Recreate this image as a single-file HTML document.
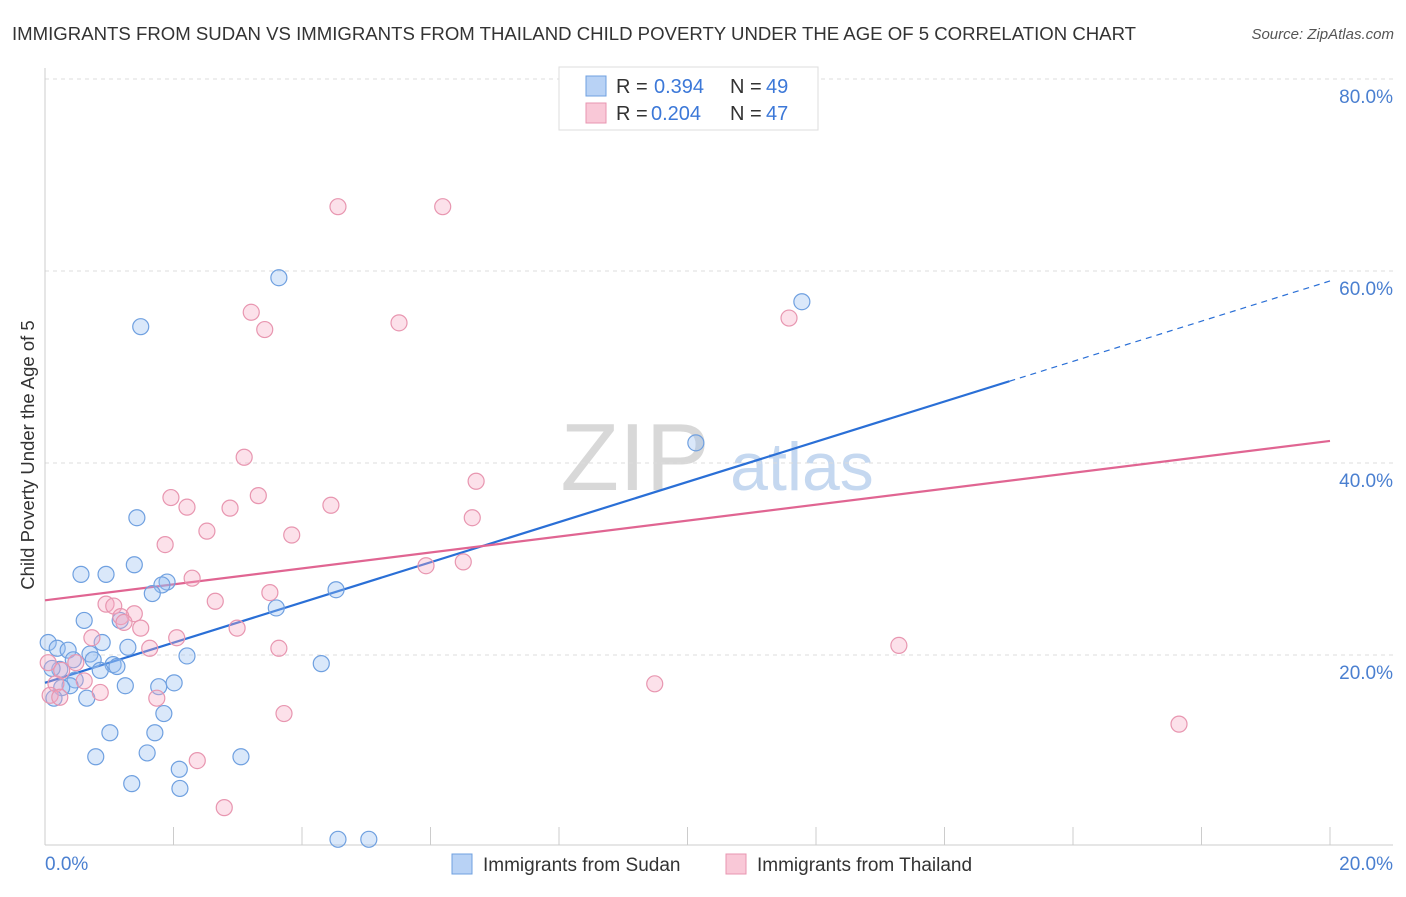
<!DOCTYPE html>
<html><head><meta charset="utf-8">
<style>
body{margin:0;background:#fff;font-family:"Liberation Sans",sans-serif;}
svg text{font-family:"Liberation Sans",sans-serif;}
</style></head>
<body>
<svg id="chart" width="1406" height="892" xmlns="http://www.w3.org/2000/svg">
<text x="12" y="40" font-size="18.6" fill="#333">IMMIGRANTS FROM SUDAN VS IMMIGRANTS FROM THAILAND CHILD POVERTY UNDER THE AGE OF 5 CORRELATION CHART</text>
<text x="1394" y="39" font-size="15" fill="#555" text-anchor="end" font-style="italic">Source: ZipAtlas.com</text>
<g>
<text x="635" y="490" font-size="96" fill="#d8d8d8" font-family="Liberation Serif" text-anchor="middle">ZIP</text>
<text x="802" y="490" font-size="68" fill="#c5d8f0" text-anchor="middle">atlas</text>
</g>
<g id="grid"></g>
<g id="axes"></g>
<g id="lines"></g>
<g id="points"></g>
<text transform="translate(34,455) rotate(-90)" font-size="18.5" fill="#333" text-anchor="middle">Child Poverty Under the Age of 5</text>
<g>
<rect x="559" y="67" width="259" height="63" fill="#fff" stroke="#ddd"/>
<rect x="586" y="76" width="20" height="20" fill="#b8d2f5" stroke="#6fa0e0"/>
<text x="616" y="93" font-size="20" fill="#333">R = </text><text x="654" y="93" font-size="20" fill="#3c78d8">0.394</text>
<text x="730" y="93" font-size="20" fill="#333">N = </text><text x="766" y="93" font-size="20" fill="#3c78d8">49</text>
<rect x="586" y="103" width="20" height="20" fill="#f9c8d7" stroke="#e896b0"/>
<text x="616" y="120" font-size="20" fill="#333">R = </text><text x="651" y="120" font-size="20" fill="#3c78d8">0.204</text>
<text x="730" y="120" font-size="20" fill="#333">N = </text><text x="766" y="120" font-size="20" fill="#3c78d8">47</text>
</g>
<g>
<rect x="452" y="854" width="20" height="20" fill="#b8d2f5" stroke="#6fa0e0"/>
<text x="483" y="871" font-size="19" fill="#333">Immigrants from Sudan</text>
<rect x="726" y="854" width="20" height="20" fill="#f9c8d7" stroke="#e896b0"/>
<text x="757" y="871" font-size="19" fill="#333">Immigrants from Thailand</text>
</g>
</svg>
<script>
const sudanX=[3.64,1.49,11.78,10.13,1.43,1.39,0.56,0.95,1.90,1.82,1.67,4.53,3.60,0.61,1.17,0.05,0.19,0.36,0.89,1.29,0.70,0.44,0.75,1.06,1.12,0.86,0.23,2.21,4.30,0.11,0.47,0.39,0.26,1.25,1.77,2.01,0.65,0.14,1.85,1.01,1.71,0.79,1.59,3.05,2.09,1.35,2.10,4.56,5.04];
const sudanY=[59.3,54.2,56.8,42.1,34.3,29.4,28.4,28.4,27.6,27.3,26.4,26.8,24.9,23.6,23.6,21.3,20.7,20.5,21.3,20.8,20.1,19.5,19.5,19.0,18.8,18.4,18.5,19.9,19.1,18.6,17.4,16.8,16.6,16.8,16.7,17.1,15.5,15.5,13.9,11.9,11.9,9.4,9.8,9.4,8.1,6.6,6.1,0.8,0.8];
const thaiX=[4.56,6.19,3.21,3.42,5.51,11.58,3.10,6.71,1.96,3.32,2.21,2.88,4.45,6.65,2.52,3.84,1.87,5.93,6.51,2.29,3.50,2.65,0.95,1.07,1.39,1.18,1.23,1.49,2.99,2.05,0.73,1.63,3.64,13.29,0.05,0.48,0.26,0.61,0.17,0.86,0.08,0.23,1.74,9.49,3.72,17.65,2.37,2.79];
const thaiY=[66.7,66.7,55.7,53.9,54.6,55.1,40.6,38.1,36.4,36.6,35.4,35.3,35.6,34.3,32.9,32.5,31.5,29.3,29.7,28.0,26.5,25.6,25.3,25.1,24.3,24.0,23.4,22.8,22.8,21.8,21.8,20.7,20.7,21.0,19.2,19.2,18.4,17.3,17.0,16.1,15.8,15.6,15.5,17.0,13.9,12.8,9.0,4.1];
const sudanTrend=[17.1,58.96];
const thaiTrend=[25.7,42.3];
const yTicks=[20,40,60,80];
const yTickLabels=["20.0%","40.0%","60.0%","80.0%"];
const xTicks=[0,2,4,6,8,10,12,14,16,18,20];
const xLabels=["0.0%","20.0%"];
const NS="http://www.w3.org/2000/svg";
const X=v=>45+v*64.25, Y=v=>847-v*9.6;
function mk(tag,attrs,parent){const e=document.createElementNS(NS,tag);for(const k in attrs)e.setAttribute(k,attrs[k]);document.getElementById(parent).appendChild(e);return e;}
yTicks.forEach((t,i)=>{
 const g=mk('line',{x1:45,x2:1393,y1:Y(t),y2:Y(t),stroke:'#ddd','stroke-dasharray':'4,4'},'grid');
 
 
 const l=mk('text',{x:1393,y:Y(t)+24,'font-size':19,fill:'#4a7fd0','text-anchor':'end'},'axes');
 l.textContent=yTickLabels[i];
 
 
});
const xa=mk('line',{x1:45,x2:1393,y1:845,y2:845,stroke:'#ccc'},'axes');


const ya=mk('line',{x1:45,x2:45,y1:68,y2:845,stroke:'#ccc'},'axes');


xTicks.forEach(t=>{const e=mk('line',{x1:X(t),x2:X(t),y1:827,y2:845,stroke:'#ccc'},'axes');
 
 });
const xl0=mk('text',{x:45,y:870,'font-size':19,fill:'#4a7fd0'},'axes');xl0.textContent=xLabels[0];


const xl1=mk('text',{x:1393,y:870,'font-size':19,fill:'#4a7fd0','text-anchor':'end'},'axes');xl1.textContent=xLabels[1];


function pts(xs,ys,fill,stroke,name){xs.forEach((x,i)=>{const c=mk('circle',{cx:X(x),cy:Y(ys[i]),r:8,fill:fill,stroke:stroke,'stroke-width':1.2},'points');
 
 });}
pts(sudanX,sudanY,'rgba(150,190,240,0.35)','#6fa0e0','sudan-point');
pts(thaiX,thaiY,'rgba(245,170,195,0.35)','#e896b0','thailand-point');
const sAt=x=>sudanTrend[0]+(sudanTrend[1]-sudanTrend[0])*x/20;
const s1=mk('line',{x1:X(0),y1:Y(sAt(0)),x2:X(15.01),y2:Y(sAt(15.01)),stroke:'#2a6fd6','stroke-width':2.2},'lines');


const s2=mk('line',{x1:X(15.01),y1:Y(sAt(15.01)),x2:X(20),y2:Y(sAt(20)),stroke:'#2a6fd6','stroke-width':1.2,'stroke-dasharray':'6,5'},'lines');


const t1=mk('line',{x1:X(0),y1:Y(thaiTrend[0]),x2:X(20),y2:Y(thaiTrend[1]),stroke:'#e06592','stroke-width':2.2},'lines');


</script>
</body></html>
